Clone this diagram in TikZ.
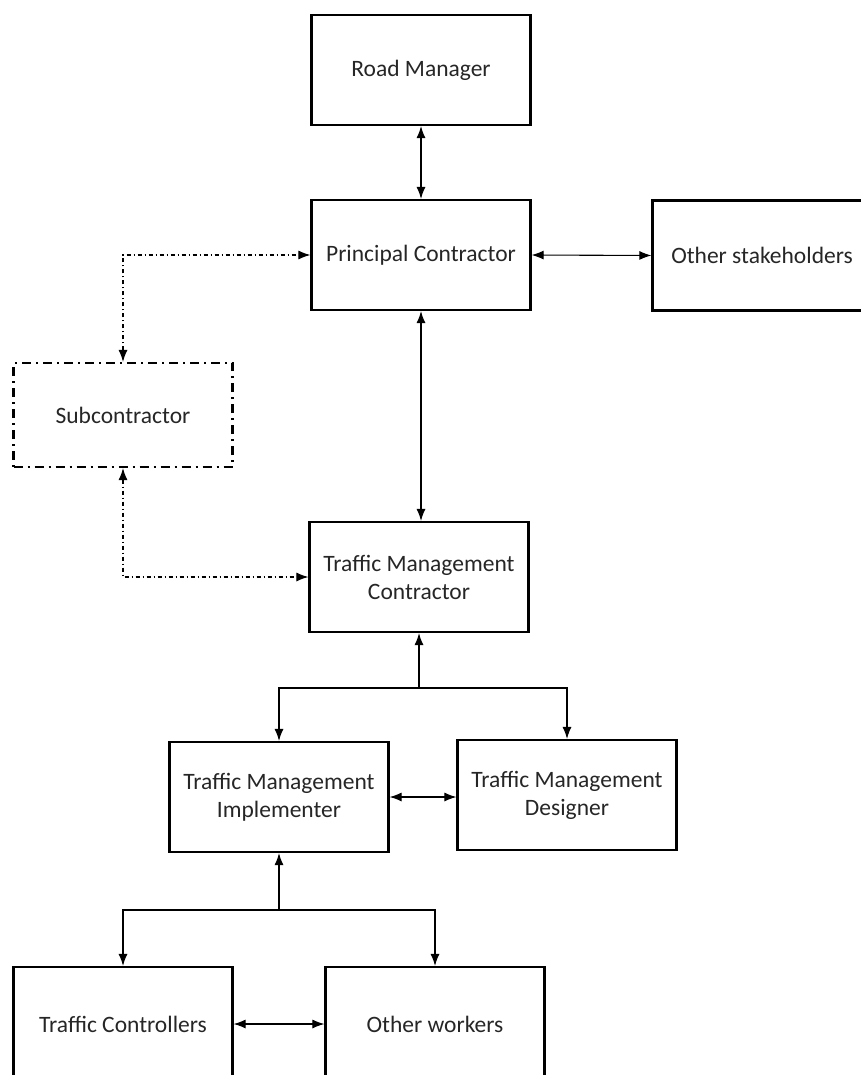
\documentclass[tikz,border=0pt]{standalone}
\usepackage{fontspec}
\setmainfont{Carlito}
\usetikzlibrary{arrows.meta,positioning}

\tikzset{
  box/.style={draw, line width=2.2pt, minimum width=219pt, minimum height=110pt, align=center, text=black!85, font=\fontsize{23.5}{28}\selectfont},
  subbox/.style={box, dash pattern=on 9pt off 5pt on 2pt off 5pt, minimum height=104pt},
  link/.style={line width=1.1pt, {Latex[length=12pt,width=9pt]}-{Latex[length=12pt,width=9pt]}},
  feed/.style={line width=1.1pt, -{Latex[length=12pt,width=9pt]}},
  dashlink/.style={link, dash pattern=on 4pt off 3pt on 1pt off 3pt}
}

\begin{document}
\begin{tikzpicture}[x=1pt, y=-1pt]

\useasboundingbox (0, 0) rectangle (861, 1075);

\node[box] (road) at (421, 70) {Road Manager};
\node[box] (principal) at (421, 255) {Principal Contractor};
\node[box] (others) at (762, 255.5) {Other stakeholders};
\node[subbox] (sub) at (123, 415) {Subcontractor};
\node[box] (tmc) at (419, 577) {Traffic Management\\Contractor};
\node[box] (tmi) at (279, 797) {Traffic Management\\Implementer};
\node[box] (tmd) at (567, 795) {Traffic Management\\Designer};
\node[box, minimum height=114pt] (ctrl) at (123, 1024) {Traffic Controllers};
\node[box, minimum height=114pt] (workers) at (435, 1024) {Other workers};

\draw[link] (road.south) -- (principal.north);
\draw[link] (principal.east) -- (others.west);
\draw[link] (principal.south) -- (principal.south |- tmc.north);

\draw[dashlink] (sub.north) |- (principal.west);
\draw[dashlink] (sub.south) |- (tmc.west);

\coordinate (split1) at (419, 688);
\draw[feed] (split1) -- (tmc.south);
\draw[feed] (split1) -| (tmi.north);
\draw[feed] (split1) -| (tmd.north);

\draw[link] (tmi.east) -- (tmi.east -| tmd.west);

\coordinate (split2) at (279, 910);
\draw[feed] (split2) -- (tmi.south);
\draw[feed] (split2) -| (ctrl.north);
\draw[feed] (split2) -| (workers.north);

\draw[link] (ctrl.east) -- (workers.west);

\end{tikzpicture}
\end{document}
